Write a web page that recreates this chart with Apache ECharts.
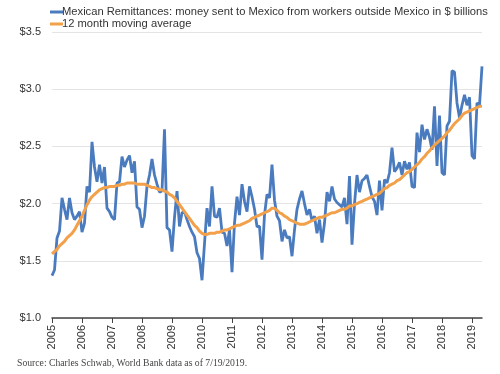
<!DOCTYPE html>
<html>
<head>
<meta charset="utf-8">
<script src="https://cdn.jsdelivr.net/npm/echarts@6/dist/echarts.min.js"></script>
<style>html,body{margin:0;padding:0;background:#fff}#c{width:500px;height:374px}</style>
</head>
<body>
<div id="c"></div>
<script>
const startYear = 2005;
const seriesNames = ['Mexican Remittances: money sent to Mexico from workers outside Mexico in $ billions', '12 month moving average'];
// Monthly remittances, $ billions, Jan 2005 - May 2019
const remittances = [
  1.37,1.42,1.70,1.76,2.05,1.95,1.86,2.05,1.92,1.86,1.89,1.93,
  1.75,1.83,2.15,2.10,2.54,2.32,2.19,2.34,2.18,2.32,1.96,1.93,
  1.88,1.86,2.18,2.19,2.41,2.32,2.38,2.42,2.27,2.37,1.97,1.95,
  1.79,1.89,2.15,2.25,2.39,2.25,2.17,2.10,2.11,2.65,1.79,1.77,
  1.58,1.88,2.11,1.80,1.92,1.93,1.86,1.80,1.75,1.71,1.57,1.52,
  1.33,1.65,1.96,1.80,2.15,1.89,1.88,1.96,1.75,1.74,1.63,1.77,
  1.40,1.83,2.06,1.90,2.17,2.02,1.93,2.15,2.06,1.95,1.80,1.80,
  1.51,1.90,2.08,2.05,2.34,2.03,1.89,1.85,1.67,1.77,1.70,1.71,
  1.54,1.77,1.95,2.04,2.11,2.00,1.90,1.95,1.85,1.89,1.74,1.86,
  1.66,1.83,2.10,2.02,2.15,2.04,2.01,1.99,1.97,2.05,1.82,2.24,
  1.64,2.00,2.25,2.10,2.20,2.22,2.25,2.15,2.06,2.02,1.90,2.20,
  1.94,2.21,2.18,2.27,2.49,2.28,2.31,2.36,2.25,2.37,2.30,2.36,
  2.15,2.14,2.62,2.45,2.69,2.56,2.65,2.58,2.47,2.85,2.33,2.77,
  2.27,2.25,2.68,2.72,3.16,3.15,2.88,2.75,2.86,2.95,2.86,2.93,
  2.42,2.39,2.88,2.86,3.20
];
const movingAverage = [
  1.56,1.58,1.60,1.63,1.65,1.67,1.70,1.72,1.74,1.77,1.81,1.85,
  1.89,1.94,1.99,2.03,2.06,2.08,2.10,2.12,2.13,2.14,2.14,2.15,
  2.15,2.15,2.16,2.16,2.17,2.17,2.18,2.18,2.18,2.18,2.17,2.17,
  2.17,2.17,2.16,2.15,2.14,2.14,2.13,2.12,2.12,2.11,2.10,2.08,
  2.07,2.05,2.02,1.99,1.96,1.93,1.90,1.87,1.84,1.81,1.79,1.76,
  1.74,1.73,1.73,1.74,1.74,1.74,1.75,1.75,1.76,1.77,1.77,1.78,
  1.79,1.80,1.81,1.81,1.82,1.83,1.84,1.85,1.87,1.88,1.89,1.90,
  1.91,1.92,1.93,1.94,1.96,1.96,1.94,1.92,1.91,1.89,1.88,1.86,
  1.85,1.84,1.83,1.82,1.82,1.82,1.83,1.84,1.85,1.86,1.87,1.88,
  1.88,1.89,1.90,1.91,1.92,1.92,1.93,1.94,1.95,1.95,1.96,1.98,
  1.98,1.99,2.00,2.01,2.02,2.03,2.04,2.05,2.06,2.07,2.08,2.09,
  2.11,2.13,2.14,2.16,2.17,2.18,2.20,2.21,2.23,2.25,2.27,2.28,
  2.30,2.32,2.34,2.36,2.39,2.41,2.44,2.46,2.49,2.51,2.53,2.55,
  2.57,2.59,2.62,2.64,2.67,2.70,2.72,2.74,2.77,2.79,2.80,2.81,
  2.82,2.83,2.84,2.85,2.85
];
const sourceNote = 'Source: Charles Schwab, World Bank data as of 7/19/2019.';

const categories = remittances.map((_, i) =>
  (startYear + Math.floor(i / 12)) + '-' + String(i % 12 + 1).padStart(2, '0'));
const isJan = (idx, val) => String(val).endsWith('-01');

const chart = echarts.init(document.getElementById('c'), null, {renderer: 'canvas'});
chart.setOption({
  animation: false,
  backgroundColor: '#fff',
  legend: {
    orient: 'vertical',
    left: 45,
    top: 1,
    itemWidth: 13,
    itemHeight: 3,
    itemGap: 0,
    icon: 'rect',
    textStyle: {fontFamily: 'Liberation Sans', fontSize: 11.2, color: '#333', lineHeight: 12, padding: [0, 0, 0, -6]},
    data: seriesNames
  },
  grid: {left: 52, right: 18, top: 32, bottom: 56},
  xAxis: {
    type: 'category',
    data: categories,
    boundaryGap: false,
    axisLine: {lineStyle: {color: '#444', width: 1.5}},
    axisTick: {show: true, interval: isJan, length: 5, lineStyle: {color: '#444', width: 1}},
    axisLabel: {
      interval: isJan, rotate: 90, margin: 7,
      formatter: v => v.slice(0, 4),
      fontFamily: 'Liberation Sans', fontSize: 11, color: '#333'
    },
    splitLine: {show: false}
  },
  yAxis: {
    type: 'value',
    min: 1, max: 3.5, interval: 0.5,
    axisLine: {show: false},
    axisTick: {show: false},
    axisLabel: {
      formatter: v => '$' + v.toFixed(1),
      margin: 11,
      fontFamily: 'Liberation Sans', fontSize: 11, color: '#333'
    },
    splitLine: {lineStyle: {color: '#e4e4e4', width: 1}}
  },
  series: [
    {
      name: seriesNames[0], type: 'line', data: remittances,
      showSymbol: false, color: '#4a7bbf',
      lineStyle: {width: 2.8, color: '#4a7bbf'}, z: 2
    },
    {
      name: seriesNames[1], type: 'line', data: movingAverage,
      showSymbol: false, color: '#f2a04a',
      lineStyle: {width: 3, color: '#f2a04a'}, z: 3
    }
  ],
  graphic: [{
    type: 'text', left: 17, top: 358,
    style: {text: sourceNote, font: '9.7px "Liberation Serif"', fill: '#444'}
  }]
});
</script>
</body>
</html>
